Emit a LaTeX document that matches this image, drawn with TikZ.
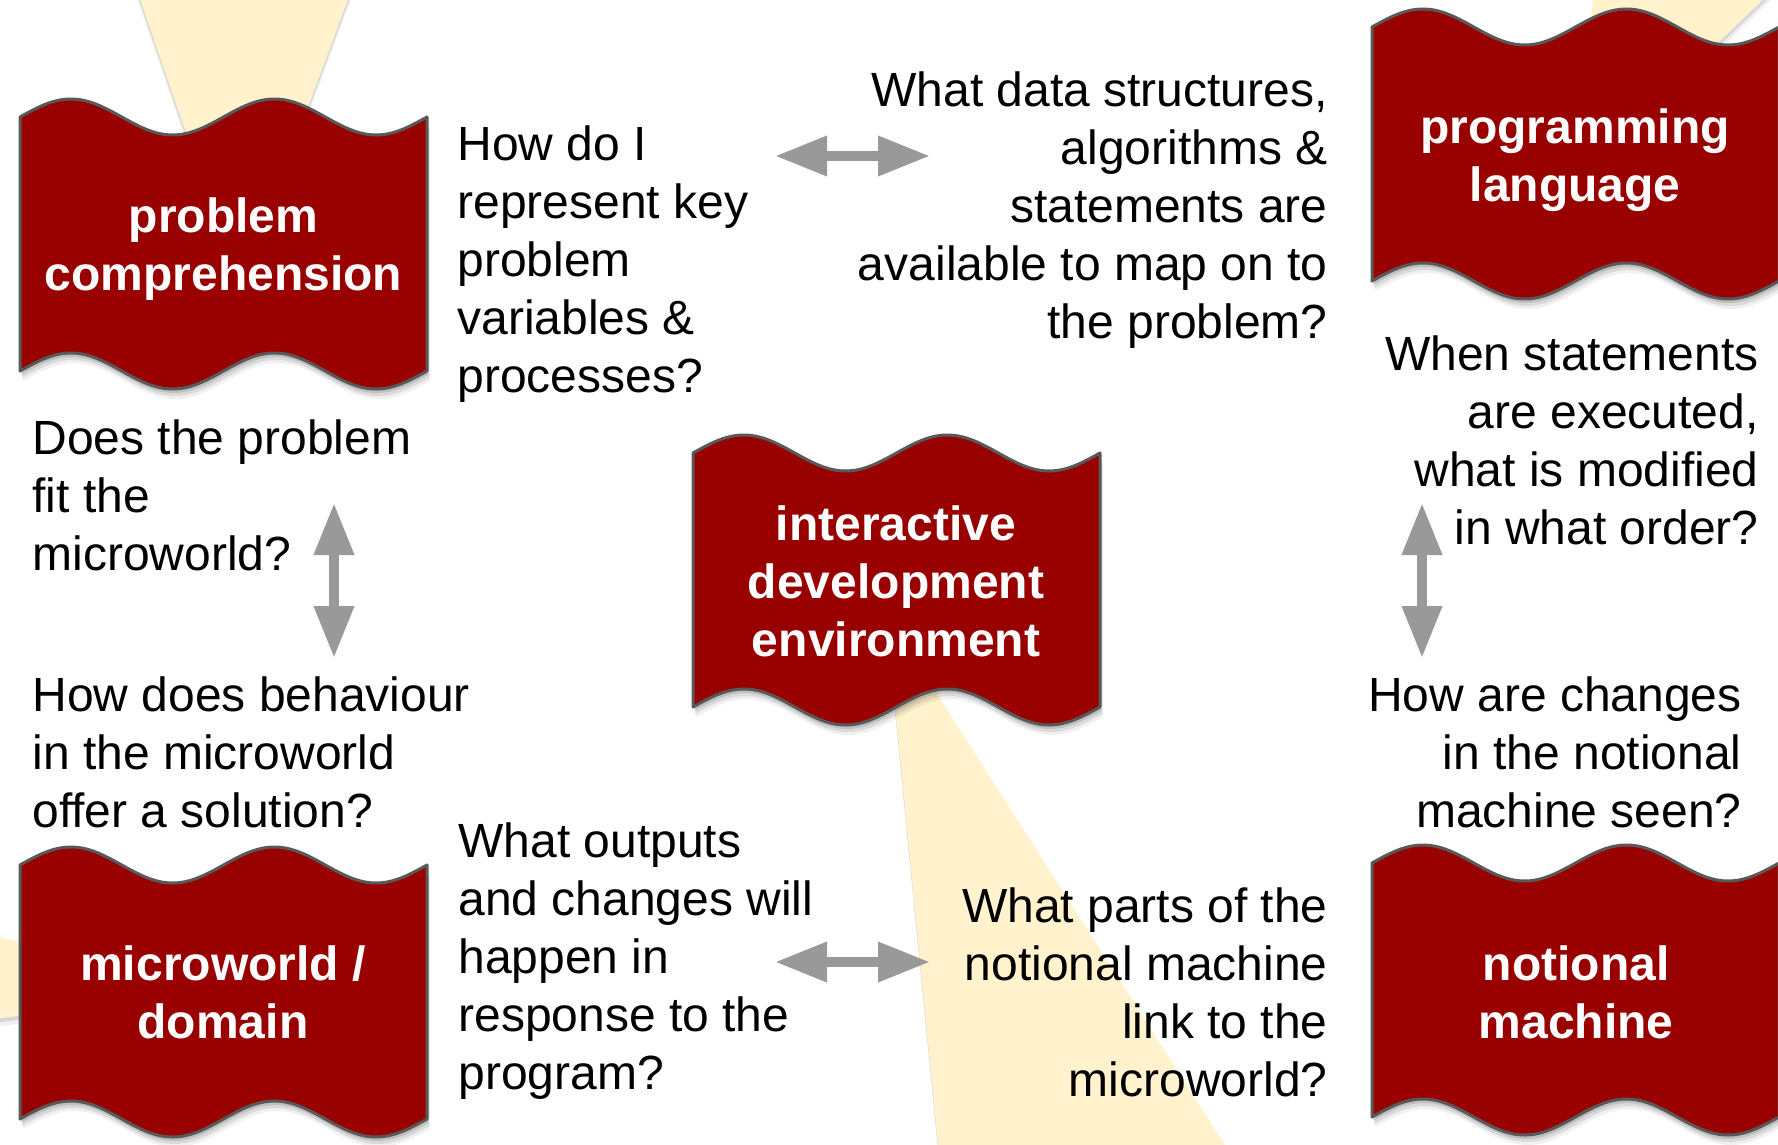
\documentclass[tikz,border=0pt]{standalone}
\usepackage{fontspec}
\setmainfont{Liberation Sans}
\usetikzlibrary{arrows.meta}
\definecolor{flagred}{HTML}{990000}
\definecolor{flagline}{HTML}{595959}
\definecolor{beamcol}{HTML}{FFF2CC}
\definecolor{arrowgray}{HTML}{999999}
\newcommand{\flagpath}[2]{(#1,#2) sin ++(50.875,-18) cos ++(50.875,18) sin ++(50.875,18) cos ++(50.875,-18) sin ++(50.875,-18) cos ++(50.875,18) sin ++(50.875,18) cos ++(50.875,-18) -- ++(0,254) sin ++(-50.875,18) cos ++(-50.875,-18) sin ++(-50.875,-18) cos ++(-50.875,18) sin ++(-50.875,18) cos ++(-50.875,-18) sin ++(-50.875,-18) cos ++(-50.875,18) -- cycle}
\newcommand{\drawflag}[2]{%
  \fill[black,opacity=0.06,shift={(3,10)}] \flagpath{#1}{#2};
  \fill[black,opacity=0.09,shift={(2,7)}] \flagpath{#1}{#2};
  \fill[black,opacity=0.12,shift={(1,4)}] \flagpath{#1}{#2};
  \filldraw[fill=flagred,draw=flagline,line width=1.5pt,line join=round] \flagpath{#1}{#2};
}
\newcommand{\drawbeam}[1]{%
  \fill[black,opacity=0.06,shift={(0,8)}] #1;
  \fill[black,opacity=0.10,shift={(0,4)}] #1;
  \fill[beamcol] #1;
}
\tikzset{
  qtext/.style={font=\fontsize{24}{29}\selectfont, inner sep=0pt, text=black},
  flagtext/.style={font=\bfseries\fontsize{24}{29}\selectfont, text=white, inner sep=0pt, align=center, anchor=north},
  fatarrow/.style={draw=arrowgray, line width=5pt, {Triangle[length=26pt,width=19pt]}-{Triangle[length=26pt,width=19pt]}}
}
\begin{document}
\begin{tikzpicture}[x=0.5pt,y=-0.5pt]
\useasboundingbox (0,0) rectangle (1778,1145);
\clip (0,0) rectangle (1778,1145);
\fill[white] (0,0) rectangle (1778,1145);
% beams
\drawbeam{(240,290) -- (130,-30) -- (359,-30) -- cycle}
\drawbeam{(1575,180) -- (1596,-30) -- (1794,-30) -- cycle}
\drawbeam{(223,990) -- (-30,930) -- (-30,1022) -- cycle}
\drawbeam{(886,614) -- (941,1175) -- (1244,1175) -- cycle}
% flags
\drawflag{20}{117}
\drawflag{1372}{27}
\drawflag{693}{453}
\drawflag{20}{865}
\drawflag{1372}{863}
\node[flagtext] (pc) at (223.5,191.4) {\strut problem\\comprehension};
\node[flagtext] (pl) at (1575,102.4) {\strut programming\\language};
\node[flagtext] (ide) at (896,499.4) {\strut interactive\\development\\environment};
\node[flagtext] (mw) at (223,939.4) {\strut microworld /\\domain};
\node[flagtext] (nm) at (1576,939.4) {\strut notional\\machine};
% questions
\node[qtext, anchor=north west, align=left] (qA) at (457,119.4) {\strut How do I\\represent key\\problem\\variables \&\\processes?};
\node[qtext, anchor=north east, align=right] (qB) at (1328,65.4) {\strut What data structures,\\algorithms \&\\statements are\\available to map on to\\the problem?};
\node[qtext, anchor=north west, align=left] (qC) at (32,413.4) {\strut Does the problem\\fit the\\microworld?};
\node[qtext, anchor=north west, align=left] (qD) at (32,670.4) {\strut How does behaviour\\in the microworld\\offer a solution?};
\node[qtext, anchor=north west, align=left] (qE) at (458,816.4) {\strut What outputs\\and changes will\\happen in\\response to the\\program?};
\node[qtext, anchor=north east, align=right] (qF) at (1328,881.4) {\strut What parts of the\\notional machine\\link to the\\microworld?};
\node[qtext, anchor=north east, align=right] (qG) at (1759,329.4) {\strut When statements\\are executed,\\what is modified\\in what order?};
\node[qtext, anchor=north east, align=right] (qH) at (1742,670.4) {\strut How are changes\\in the notional\\machine seen?};
% arrows
\coordinate (h1a) at (775,156);
\coordinate (h1b) at (930,156);
\coordinate (h2a) at (775,962);
\coordinate (h2b) at (930,962);
\coordinate (v1a) at (334,503);
\coordinate (v1b) at (334,658);
\coordinate (v2a) at (1422,503);
\coordinate (v2b) at (1422,658);
\draw[fatarrow] (h1a) -- (h1b);
\draw[fatarrow] (h2a) -- (h2b);
\draw[fatarrow] (v1a) -- (v1b);
\draw[fatarrow] (v2a) -- (v2b);
\end{tikzpicture}
\end{document}
